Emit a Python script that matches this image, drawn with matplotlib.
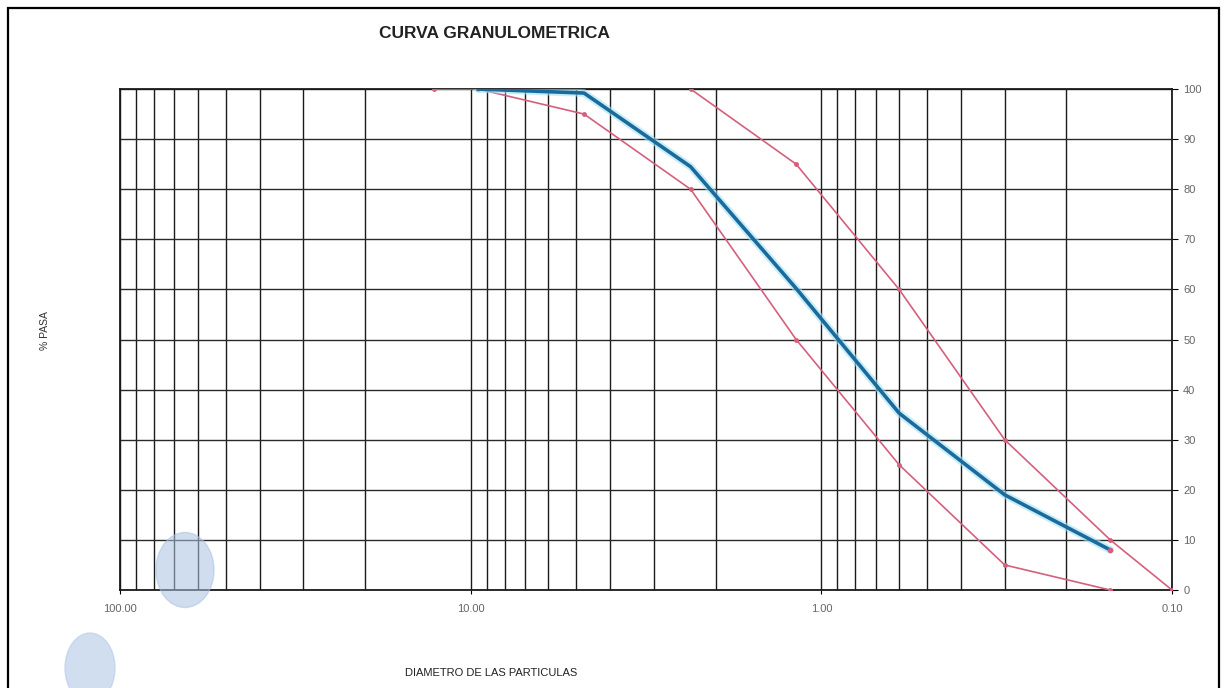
import matplotlib.pyplot as plt
from matplotlib.ticker import LogLocator, FixedLocator, NullFormatter
from matplotlib.patches import Ellipse, Rectangle

# tamices (mm) y % que pasa
tamiz = [9.525, 4.75, 2.36, 1.18, 0.60, 0.30, 0.15]
muestra = [100, 99.2, 84.5, 60.2, 35.3, 19.0, 8.0]

tamiz_inf = [12.7, 9.525, 4.75, 2.36, 1.18, 0.60, 0.30, 0.15]
lim_inf = [100, 100, 95, 80, 50, 25, 5, 0]

tamiz_sup = [2.36, 1.18, 0.60, 0.30, 0.15, 0.10]
lim_sup = [100, 85, 60, 30, 10, 0]

xticks = [100, 10, 1, 0.1]
yticks = list(range(0, 101, 10))

narrow = ['Liberation Sans Narrow', 'Liberation Sans', 'DejaVu Sans']

fig = plt.figure(figsize=(12.27, 6.88), dpi=100)
ax = fig.add_axes([0.0978, 0.1424, 0.8574, 0.7282])

rojo = '#d4607c'
ax.plot(tamiz_inf, lim_inf, color=rojo, lw=1.2, marker='o', ms=2.5, zorder=3)
ax.plot(tamiz_sup, lim_sup, color=rojo, lw=1.2, marker='o', ms=2.5, zorder=3)
# halo claro del escaneo + curva azul
ax.plot(tamiz, muestra, color='#9fe3f5', lw=5.5, alpha=0.6, zorder=4, solid_capstyle='round')
ax.plot(tamiz, muestra, color='#1c6a9c', lw=2.6, zorder=5)
ax.plot(tamiz[-1:], muestra[-1:], 'o', color=rojo, ms=3, zorder=6)

ax.set_xscale('log')
ax.set_xlim(100, 0.1)
ax.set_ylim(0, 100)

ax.xaxis.set_major_locator(FixedLocator(xticks))
ax.xaxis.set_minor_locator(LogLocator(base=10, subs=range(2, 10), numticks=20))
ax.xaxis.set_minor_formatter(NullFormatter())
ax.set_xticklabels(['%.2f' % v for v in xticks])
ax.set_yticks(yticks)
ax.yaxis.tick_right()

ax.grid(True, which='both', axis='x', color='#1a1a1a', lw=1.0)
ax.grid(True, which='major', axis='y', color='#2a2a2a', lw=1.0)
ax.set_axisbelow(True)
for s in ax.spines.values():
    s.set_color('#1a1a1a')
    s.set_linewidth(1.3)

ax.tick_params(axis='x', which='major', length=3, labelsize=8, labelcolor='#666666', pad=7)
ax.tick_params(axis='x', which='minor', length=0)
ax.tick_params(axis='y', length=4, labelsize=8, labelcolor='#666666', pad=4)
for t in ax.get_xticklabels() + ax.get_yticklabels():
    t.set_family(narrow)

fig.text(0.403, 0.952, 'CURVA GRANULOMETRICA', ha='center', va='center',
         fontsize=12.5, fontweight='bold', family=narrow, color='#222222')
fig.text(0.037, 0.52, '% PASA', rotation=90, ha='center', va='center',
         fontsize=7.5, family=narrow, color='#333333')
fig.text(0.40, 0.022, 'DIAMETRO DE LAS PARTICULAS', ha='center', va='center',
         fontsize=8, family=narrow, color='#222222')

# marco de la hoja y manchas del escaneo
fig.patches.append(Rectangle((0.0065, -0.05), 0.987, 1.038, transform=fig.transFigure,
                             fill=False, ec='black', lw=1.6))
fig.patches.append(Ellipse((185 / 1227, 1 - 570 / 688), 58 / 1227, 75 / 688,
                           transform=fig.transFigure, color='#a9c2e0', alpha=0.55, zorder=10))
fig.patches.append(Ellipse((90 / 1227, 1 - 668 / 688), 50 / 1227, 70 / 688,
                           transform=fig.transFigure, color='#bcd0ea', alpha=0.7, zorder=0))

fig.savefig('out.png', dpi=100)
